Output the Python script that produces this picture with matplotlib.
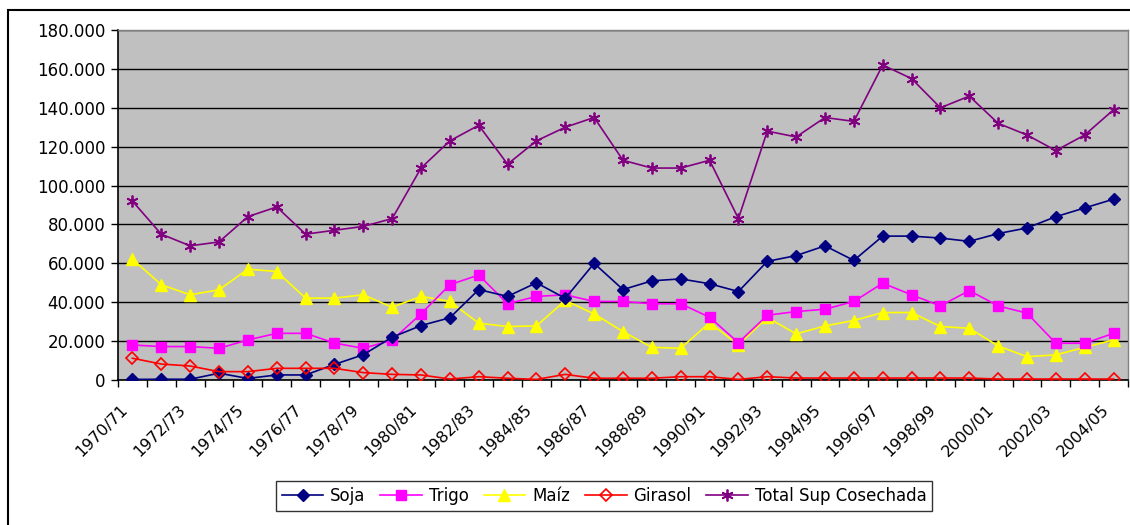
import numpy as np
import matplotlib
matplotlib.use("Agg")
import matplotlib.pyplot as plt
import matplotlib.transforms as mtransforms
from matplotlib.patches import Rectangle
from matplotlib.ticker import FuncFormatter, MultipleLocator, FixedLocator

plt.rcParams['font.family'] = ['DejaVu Sans']

seasons = [f"{y}/{(y + 1) % 100:02d}" for y in range(1970, 2005)]

soja = [0.3, 0.4, 0.4, 3.5, 0.8, 2.6, 2.6, 8, 13, 22, 28, 32, 46.5, 43, 50, 42, 60, 46.5,
        51, 52, 49.5, 45.5, 61, 64, 69, 61.5, 74, 74, 73, 71.3, 75.3, 78.2, 84, 88.5, 93]
trigo = [18, 17.2, 17.2, 16.3, 20.6, 24, 24, 19, 16.3, 20.5, 34, 49, 54, 39.2, 43, 43.8, 40.4,
         40.4, 39.2, 39.2, 32.3, 19.2, 33.3, 35.2, 36.4, 40.4, 49.8, 43.8, 38.1, 46, 38.1, 34.4,
         18.9, 18.9, 24]
maiz = [62.2, 49, 43.8, 46.4, 57, 55.8, 42.1, 42.1, 43.8, 37.4, 43, 40.4, 29.2, 27.5, 27.8,
        40.9, 34, 24.9, 16.8, 16.3, 29.5, 18, 32.2, 23.7, 27.8, 30.6, 34.7, 34.7, 27.5, 26.6,
        17.5, 12, 12.9, 16.8, 20.6]
girasol = [11.2, 8.2, 7.2, 4.3, 4.3, 6, 6, 6, 3.8, 2.9, 2.6, 0.5, 1.7, 0.9, 0.3, 2.9, 0.9,
           0.9, 0.9, 1.7, 1.7, 0.3, 1.7, 1, 1, 1, 1, 1, 1, 1, 0.5, 0.5, 0.5, 0.5, 0.5]
total = [92, 75, 69, 71, 84, 89, 75, 77, 79, 83, 109, 123, 131, 111, 123, 130, 135, 113, 109,
         109, 113, 83, 128, 125, 135, 133, 162, 155, 140, 146, 132, 126, 118, 126, 139]

series_names = ["Soja", "Trigo", "Maíz", "Girasol", "Total Sup Cosechada"]

W, H = 1130, 525
fig = plt.figure(figsize=(W / 100, H / 100), dpi=100)
fig.patch.set_facecolor("white")

# outer chart frame
fig.add_artist(Rectangle((8 / W, -0.05), 1.2, 1 - 10 / H + 0.05, transform=fig.transFigure,
                         fill=False, edgecolor="black", linewidth=1.5))

ax = fig.add_axes([118 / W, 1 - 380 / H, (1128 - 118) / W, (380 - 30) / H])
ax.set_facecolor("#C0C0C0")

x = np.arange(len(seasons))
k = 1000.0
ax.plot(x, np.array(soja) * k, color="#000080", lw=1.2, marker="D", ms=6,
        mfc="#000080", mec="#000080", label=series_names[0], zorder=5)
ax.plot(x, np.array(trigo) * k, color="#FF00FF", lw=1.2, marker="s", ms=7,
        mfc="#FF00FF", mec="#FF00FF", label=series_names[1], zorder=4)
ax.plot(x, np.array(maiz) * k, color="#FFFF00", lw=1.2, marker="^", ms=8,
        mfc="#FFFF00", mec="#FFFF00", label=series_names[2], zorder=3)
ax.plot(x, np.array(girasol) * k, color="#FF0000", lw=1.2, marker="D", ms=6,
        mfc="none", mew=1.2, mec="#FF0000", label=series_names[3], zorder=6)
ax.plot(x, np.array(total) * k, color="#800080", lw=1.2, marker=(6, 2, 0), ms=8.5,
        mew=1.3, mec="#800080", label=series_names[4], zorder=2)

ax.set_xlim(-0.5, len(seasons) - 0.5)
ax.set_ylim(0, 180000)
ax.yaxis.set_major_locator(MultipleLocator(20000))
ax.yaxis.set_major_formatter(FuncFormatter(lambda v, p: f"{int(round(v)):,}".replace(",", ".")))
ax.grid(axis="y", color="black", lw=1.0, zorder=1)
ax.set_axisbelow(True)

ax.set_xticks(x[::2])
ax.set_xticklabels(seasons[::2], rotation=45, ha="right", va="top", rotation_mode="anchor")
ax.xaxis.set_minor_locator(FixedLocator(np.arange(-0.5, len(seasons), 1.0)))
ax.tick_params(axis="x", which="major", length=0, pad=10, labelsize=11.5)
ax.tick_params(axis="x", which="minor", length=5, width=1, direction="out", color="black")
ax.tick_params(axis="y", which="major", length=5, width=1, direction="out", labelsize=12, pad=4)

off = mtransforms.ScaledTranslation(-12 / 100, -8 / 100, fig.dpi_scale_trans)
for lbl in ax.get_xticklabels():
    lbl.set_transform(lbl.get_transform() + off)

for s in ["top", "right"]:
    ax.spines[s].set_color("#808080")
    ax.spines[s].set_linewidth(1.0)
for s in ["left", "bottom"]:
    ax.spines[s].set_color("black")
    ax.spines[s].set_linewidth(1.2)

leg = fig.legend(loc="center", bbox_to_anchor=(604 / W, 1 - 496 / H), ncol=5, fontsize=12,
                 frameon=True, fancybox=False, edgecolor="black", handlelength=2.5,
                 columnspacing=0.9, handletextpad=0.4, borderpad=0.35)
leg.get_frame().set_linewidth(1.0)

fig.savefig("out.png", dpi=100)
